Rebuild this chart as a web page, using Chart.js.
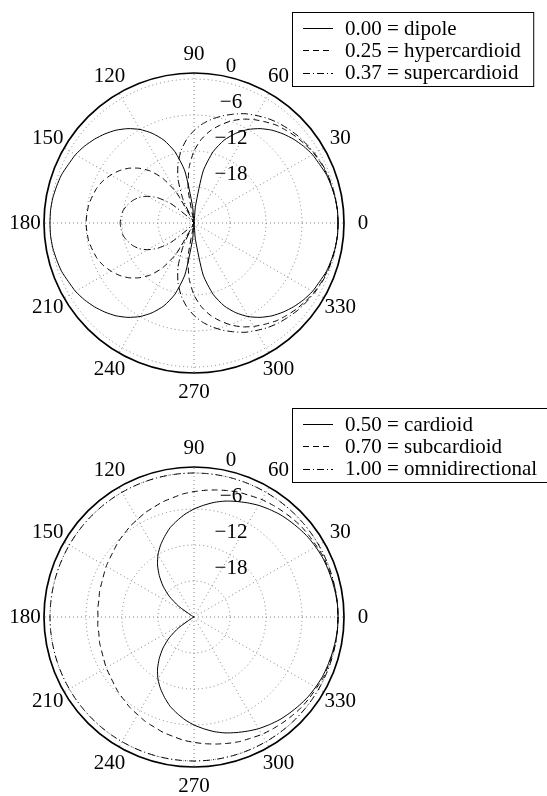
<!DOCTYPE html>
<html>
<head>
<meta charset="utf-8">
<script src="https://cdn.jsdelivr.net/npm/chart.js@4"></script>
<style>
  html, body { margin: 0; padding: 0; background: #fff; }
  .plot { position: absolute; left: 0; width: 547px; height: 398px; }
  #top { top: 0; }
  #bottom { top: 398px; }
</style>
</head>
<body>
<div class="plot" id="top"><canvas id="c1"></canvas></div>
<div class="plot" id="bottom"><canvas id="c2"></canvas></div>
<script>
// angles in degrees (0 = right, counter-clockwise), gain in dB
const angles = [0,5,10,15,20,25,30,35,40,45,50,55,60,65,70,75,80,85,90,95,100,105,110,115,120,125,130,135,140,145,150,155,160,165,170,175,
  180,185,190,195,200,205,210,215,220,225,230,235,240,245,250,255,260,265,270,275,280,285,290,295,300,305,310,315,320,325,330,335,340,345,350,355];
const angleTicks = [0, 30, 60, 90, 120, 150, 180, 210, 240, 270, 300, 330];
const rings = [-24, -18, -12, -6, 0, 1];
const ringValues = [0, -6, -12, -18];
const ringText = ['0', '−6', '−12', '−18'];

const dipole = [0,0,-0.1,-0.3,-0.5,-0.9,-1.2,-1.7,-2.3,-3.0,-3.8,-4.8,-6.0,-7.5,-9.3,-11.7,-15.2,-21.2,-24,-21.2,-15.2,-11.7,-9.3,-7.5,-6.0,-4.8,-3.8,-3.0,-2.3,-1.7,-1.2,-0.9,-0.5,-0.3,-0.1,0,
  0,0,-0.1,-0.3,-0.5,-0.9,-1.2,-1.7,-2.3,-3.0,-3.8,-4.8,-6.0,-7.5,-9.3,-11.7,-15.2,-21.2,-24,-21.2,-15.2,-11.7,-9.3,-7.5,-6.0,-4.8,-3.8,-3.0,-2.3,-1.7,-1.2,-0.9,-0.5,-0.3,-0.1,0];
const hyper = [0,0,-0.1,-0.2,-0.4,-0.6,-0.9,-1.3,-1.7,-2.2,-2.7,-3.4,-4.1,-4.9,-5.9,-7.1,-8.4,-10.0,-12.0,-14.7,-18.4,-24,-24,-23.5,-18.1,-14.9,-12.7,-11.1,-9.8,-8.8,-8.0,-7.3,-6.8,-6.5,-6.2,-6.1,
  -6.0,-6.1,-6.2,-6.5,-6.8,-7.3,-8.0,-8.8,-9.8,-11.1,-12.7,-14.9,-18.1,-23.5,-24,-24,-18.4,-14.7,-12.0,-10.0,-8.4,-7.1,-5.9,-4.9,-4.1,-3.4,-2.7,-2.2,-1.7,-1.3,-0.9,-0.6,-0.4,-0.2,-0.1,0];
const superc = [0,0,-0.1,-0.2,-0.3,-0.5,-0.8,-1.1,-1.4,-1.8,-2.2,-2.7,-3.3,-3.9,-4.7,-5.5,-6.4,-7.4,-8.6,-10.0,-11.7,-13.7,-16.2,-19.7,-24,-24,-24,-22.4,-19.0,-16.7,-15.1,-13.9,-13.1,-12.5,-12.0,-11.8,
  -11.7,-11.8,-12.0,-12.5,-13.1,-13.9,-15.1,-16.7,-19.0,-22.4,-24,-24,-24,-19.7,-16.2,-13.7,-11.7,-10.0,-8.6,-7.4,-6.4,-5.5,-4.7,-3.9,-3.3,-2.7,-2.2,-1.8,-1.4,-1.1,-0.8,-0.5,-0.3,-0.2,-0.1,0];
const cardioid = [0,0,-0.1,-0.2,-0.3,-0.4,-0.6,-0.8,-1.1,-1.4,-1.7,-2.1,-2.5,-3.0,-3.5,-4.0,-4.6,-5.3,-6.0,-6.8,-7.7,-8.6,-9.7,-10.8,-12.0,-13.4,-15.0,-16.7,-18.6,-20.9,-23.5,-24,-24,-24,-24,-24,
  -24,-24,-24,-24,-24,-24,-23.5,-20.9,-18.6,-16.7,-15.0,-13.4,-12.0,-10.8,-9.7,-8.6,-7.7,-6.8,-6.0,-5.3,-4.6,-4.0,-3.5,-3.0,-2.5,-2.1,-1.7,-1.4,-1.1,-0.8,-0.6,-0.4,-0.3,-0.2,-0.1,0];
const subc = [0,0,0,-0.1,-0.2,-0.2,-0.4,-0.5,-0.6,-0.8,-1.0,-1.2,-1.4,-1.7,-1.9,-2.2,-2.5,-2.8,-3.1,-3.4,-3.8,-4.1,-4.5,-4.8,-5.2,-5.5,-5.9,-6.2,-6.6,-6.9,-7.1,-7.4,-7.6,-7.7,-7.9,-7.9,
  -8.0,-7.9,-7.9,-7.7,-7.6,-7.4,-7.1,-6.9,-6.6,-6.2,-5.9,-5.5,-5.2,-4.8,-4.5,-4.1,-3.8,-3.4,-3.1,-2.8,-2.5,-2.2,-1.9,-1.7,-1.4,-1.2,-1.0,-0.8,-0.6,-0.5,-0.4,-0.2,-0.2,-0.1,0,0];
const omni = [0,0,0,0,0,0,0,0,0,0,0,0,0,0,0,0,0,0,0,0,0,0,0,0,0,0,0,0,0,0,0,0,0,0,0,0,
  0,0,0,0,0,0,0,0,0,0,0,0,0,0,0,0,0,0,0,0,0,0,0,0,0,0,0,0,0,0,0,0,0,0,0,0];

const topNames = ['0.00 = dipole', '0.25 = hypercardioid', '0.37 = supercardioid'];
const bottomNames = ['0.50 = cardioid', '0.70 = subcardioid', '1.00 = omnidirectional'];

const dashes = [[], [6, 4], [7, 3, 1, 3]];
const FONT = '21px "Liberation Serif", "Times New Roman", serif';
const GRID = '#808080';

// radar goes clockwise from startAngle, so walk the angles backwards
const order = angles.map((_, i) => (angles.length - i) % angles.length);
const plotAngles = order.map(k => angles[k]);

const decor = {
  id: 'decor',
  afterDraw(chart, args, opts) {
    const ctx = chart.ctx;
    const s = chart.scales.r;
    ctx.save();
    ctx.font = FONT;
    ctx.fillStyle = '#000';
    ctx.textAlign = 'center';
    ctx.textBaseline = 'middle';
    angleTicks.forEach(a => {
      const p = s.getPointPosition(plotAngles.indexOf(a), s.drawingArea + 19);
      ctx.fillText(String(a), p.x, p.y);
    });
    ringValues.forEach((v, i) => {
      const d = s.getDistanceFromCenterForValue(v);
      ctx.fillText(ringText[i], s.xCenter + 37, s.yCenter - d - 13);
    });

    // legend box
    const names = opts.names;
    const bx = 292.5, by = opts.top;
    const tx = 345;
    let w = 0;
    names.forEach(n => { w = Math.max(w, ctx.measureText(n).width); });
    const right = tx + w + 13;
    ctx.fillStyle = '#fff';
    ctx.fillRect(bx, by, right - bx, 74);
    ctx.strokeStyle = '#000';
    ctx.lineWidth = 1;
    ctx.strokeRect(bx, by, right - bx, 74);
    ctx.textAlign = 'left';
    ctx.fillStyle = '#000';
    names.forEach((n, i) => {
      const y = by + 15.5 + i * 22.3;
      ctx.setLineDash(dashes[i]);
      ctx.beginPath();
      ctx.moveTo(303, Math.round(y) + 0.5);
      ctx.lineTo(333, Math.round(y) + 0.5);
      ctx.stroke();
      ctx.setLineDash([]);
      ctx.fillText(n, tx, y + 1);
    });
    ctx.restore();
  }
};

function makeChart(id, series, names, pad, legendTop) {
  return new Chart(document.getElementById(id), {
    type: 'radar',
    data: {
      labels: plotAngles,
      datasets: series.map((vals, i) => ({
        label: names[i],
        data: order.map(k => vals[k]),
        borderColor: '#000',
        borderWidth: 1,
        borderDash: dashes[i],
        pointRadius: 0,
        fill: false,
        tension: 0.2
      }))
    },
    options: {
      responsive: true,
      maintainAspectRatio: false,
      animation: false,
      layout: { padding: pad },
      plugins: {
        legend: { display: false },
        tooltip: { enabled: false },
        decor: { names: names, top: legendTop }
      },
      scales: {
        r: {
          min: -24,
          max: 1,
          startAngle: 90,
          afterBuildTicks: s => { s.ticks = rings.map(v => ({ value: v })); },
          ticks: { display: false },
          pointLabels: { display: false },
          grid: {
            circular: true,
            color: c => (c.tick && c.tick.value === 1) ? '#000' : GRID,
            lineWidth: c => (c.tick && c.tick.value === 1) ? 1.7 : 1
          },
          border: {
            dash: c => (c.tick && c.tick.value === 1) ? [] : [1, 3]
          },
          angleLines: {
            color: c => (plotAngles[c.index] % 30 === 0) ? GRID : null,
            lineWidth: 1,
            borderDash: [1, 3]
          }
        }
      }
    },
    plugins: [decor]
  });
}

makeChart('c1', [dipole, hyper, superc], topNames, { left: 44, right: 203, top: 73, bottom: 25 }, 12.5);
makeChart('c2', [cardioid, subc, omni], bottomNames, { left: 44, right: 203, top: 69, bottom: 29 }, 10.5);
</script>
</body>
</html>
